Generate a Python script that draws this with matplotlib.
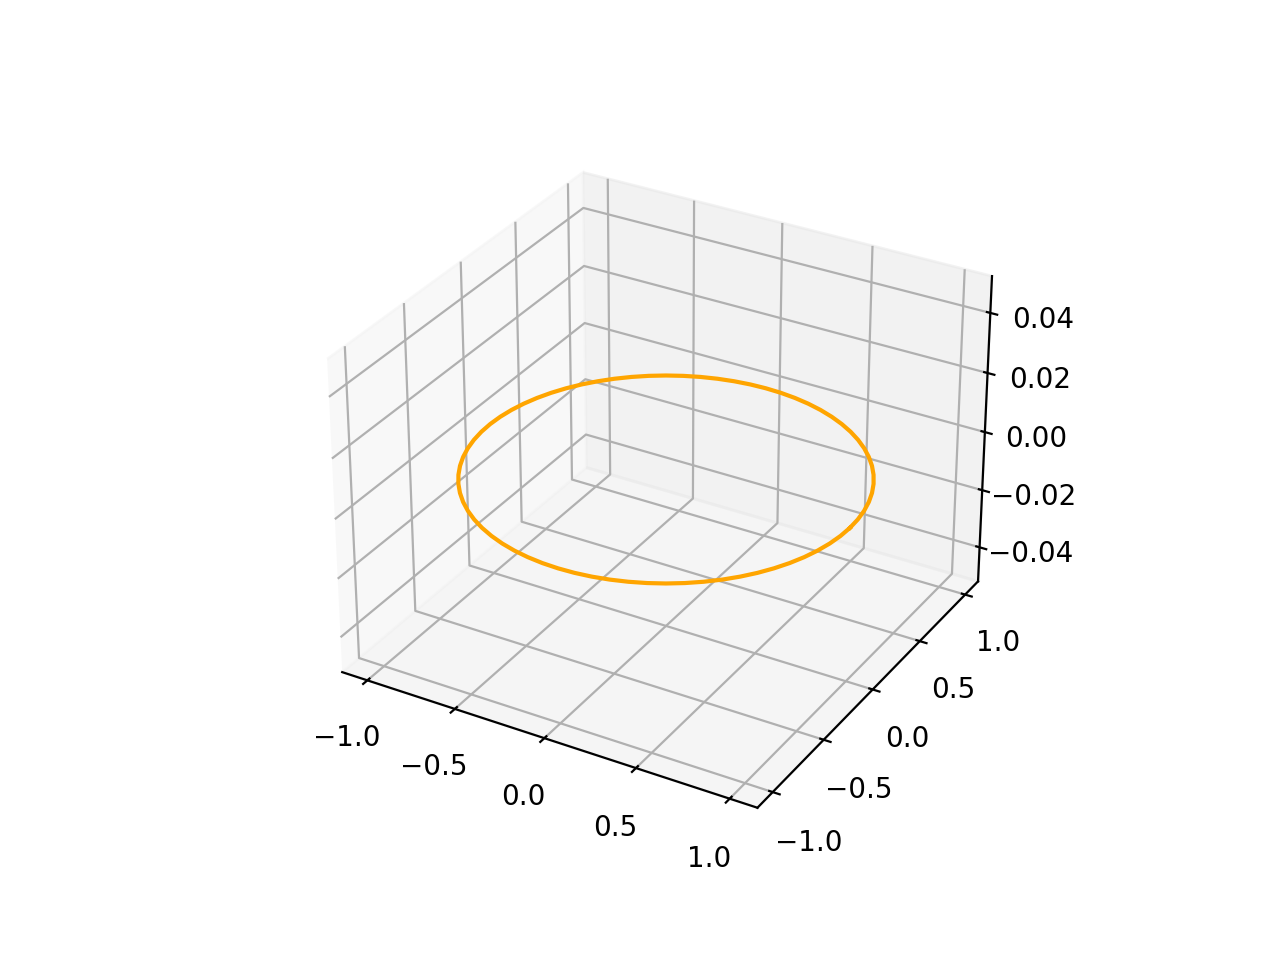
import matplotlib
matplotlib.use("Agg")
import matplotlib.pyplot as plt

# ring, every 5 degrees
ring_x = [1.0, 0.9962, 0.9848, 0.9659, 0.9397, 0.9063, 0.866, 0.8192, 0.766, 0.7071, 0.6428, 0.5736,
          0.5, 0.4226, 0.342, 0.2588, 0.1736, 0.0872, 0.0,
          -0.0872, -0.1736, -0.2588, -0.342, -0.4226, -0.5, -0.5736, -0.6428, -0.7071, -0.766, -0.8192,
          -0.866, -0.9063, -0.9397, -0.9659, -0.9848, -0.9962, -1.0,
          -0.9962, -0.9848, -0.9659, -0.9397, -0.9063, -0.866, -0.8192, -0.766, -0.7071, -0.6428, -0.5736,
          -0.5, -0.4226, -0.342, -0.2588, -0.1736, -0.0872, 0.0,
          0.0872, 0.1736, 0.2588, 0.342, 0.4226, 0.5, 0.5736, 0.6428, 0.7071, 0.766, 0.8192,
          0.866, 0.9063, 0.9397, 0.9659, 0.9848, 0.9962, 1.0]
ring_y = [0.0, 0.0872, 0.1736, 0.2588, 0.342, 0.4226, 0.5, 0.5736, 0.6428, 0.7071, 0.766, 0.8192,
          0.866, 0.9063, 0.9397, 0.9659, 0.9848, 0.9962, 1.0,
          0.9962, 0.9848, 0.9659, 0.9397, 0.9063, 0.866, 0.8192, 0.766, 0.7071, 0.6428, 0.5736,
          0.5, 0.4226, 0.342, 0.2588, 0.1736, 0.0872, 0.0,
          -0.0872, -0.1736, -0.2588, -0.342, -0.4226, -0.5, -0.5736, -0.6428, -0.7071, -0.766, -0.8192,
          -0.866, -0.9063, -0.9397, -0.9659, -0.9848, -0.9962, -1.0,
          -0.9962, -0.9848, -0.9659, -0.9397, -0.9063, -0.866, -0.8192, -0.766, -0.7071, -0.6428, -0.5736,
          -0.5, -0.4226, -0.342, -0.2588, -0.1736, -0.0872, 0.0]
ring_z = [0.0] * len(ring_x)

fig = plt.figure(figsize=(6.4, 4.8), dpi=200)
ax = fig.add_subplot(projection='3d')
ax.plot(ring_x, ring_y, ring_z, color='orange')

plt.savefig('out.png')
